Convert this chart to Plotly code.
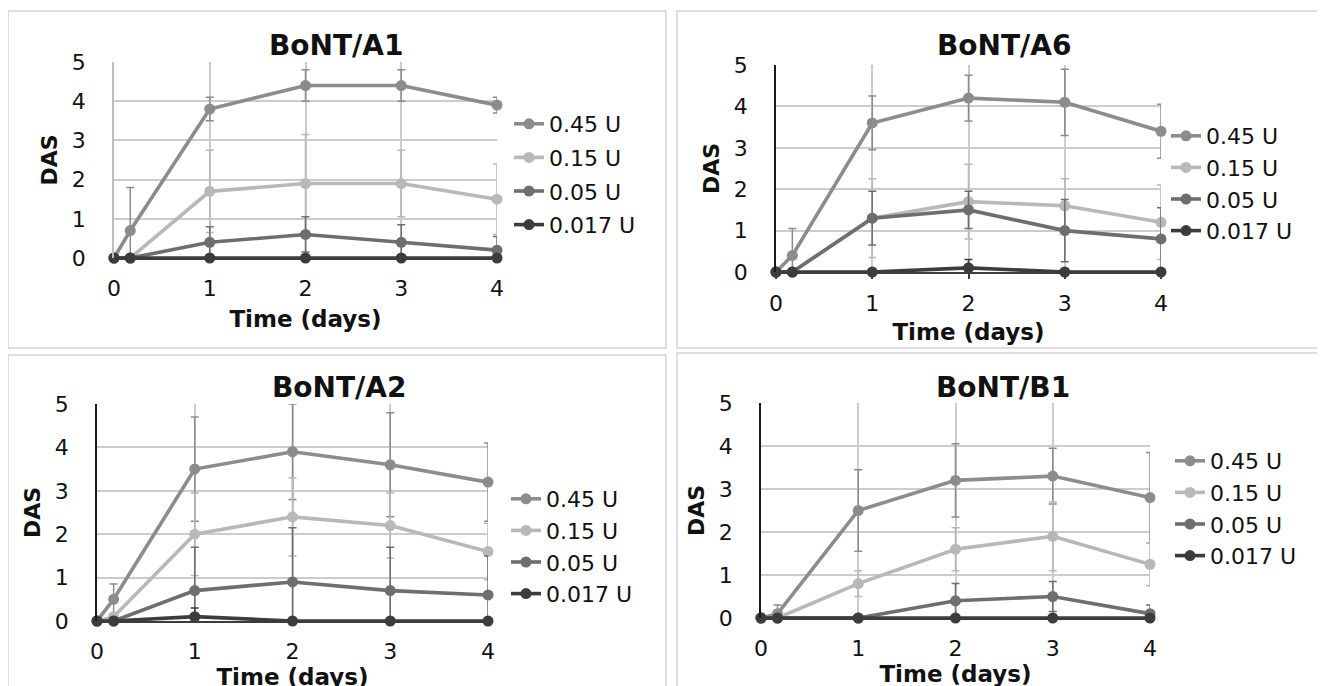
import plotly.graph_objects as go

W, H = 1325, 686
OFFSET = 8  # the page body margin shifts the figure by this many pixels

# ---------------- data ----------------
time_days = [0, 0.17, 1, 2, 3, 4]
doses = ["0.45 U", "0.15 U", "0.05 U", "0.017 U"]
panels = ["BoNT/A1", "BoNT/A6", "BoNT/A2", "BoNT/B1"]

# BoNT/A1
a1_045 = [0, 0.7, 3.8, 4.4, 4.4, 3.9]
a1_015 = [0, 0, 1.7, 1.9, 1.9, 1.5]
a1_005 = [0, 0, 0.4, 0.6, 0.4, 0.2]
a1_0017 = [0, 0, 0, 0, 0, 0]
a1_045_err = [0, 1.1, 0.3, 0.4, 0.4, 0.2]
a1_015_err = [0, 0, 1.05, 1.25, 0.85, 0.9]
a1_005_err = [0, 0, 0.4, 0.45, 0.45, 0.35]
a1_0017_err = [0, 0, 0, 0, 0, 0]

# BoNT/A6
a6_045 = [0, 0.4, 3.6, 4.2, 4.1, 3.4]
a6_015 = [0, 0, 1.3, 1.7, 1.6, 1.2]
a6_005 = [0, 0, 1.3, 1.5, 1.0, 0.8]
a6_0017 = [0, 0, 0, 0.1, 0, 0]
a6_045_err = [0, 0.65, 0.65, 0.55, 0.8, 0.65]
a6_015_err = [0, 0, 0.95, 0.9, 0.65, 0.9]
a6_005_err = [0, 0, 0.65, 0.45, 0.75, 0.75]
a6_0017_err = [0, 0, 0, 0.2, 0, 0]

# BoNT/A2
a2_045 = [0, 0.5, 3.5, 3.9, 3.6, 3.2]
a2_015 = [0, 0.1, 2.0, 2.4, 2.2, 1.6]
a2_005 = [0, 0, 0.7, 0.9, 0.7, 0.6]
a2_0017 = [0, 0, 0.1, 0, 0, 0]
a2_045_err = [0, 0.35, 1.2, 1.1, 1.2, 0.9]
a2_015_err = [0, 0, 0.95, 0.9, 0.75, 0.65]
a2_005_err = [0, 0, 1.0, 1.25, 1.0, 0.9]
a2_0017_err = [0, 0, 0.2, 0, 0, 0]

# BoNT/B1
b1_045 = [0, 0.1, 2.5, 3.2, 3.3, 2.8]
b1_015 = [0, 0, 0.8, 1.6, 1.9, 1.25]
b1_005 = [0, 0, 0, 0.4, 0.5, 0.1]
b1_0017 = [0, 0, 0, 0, 0, 0]
b1_045_err = [0, 0.2, 0.95, 0.85, 0.65, 1.05]
b1_015_err = [0, 0, 0.3, 0.5, 0.8, 0.5]
b1_005_err = [0, 0, 0, 0.4, 0.35, 0.2]
b1_0017_err = [0, 0, 0, 0, 0, 0]

x_ticks = [0, 1, 2, 3, 4]
y_ticks = [0, 1, 2, 3, 4, 5]

# ---------------- styling ----------------
colors = ["#8c8c8c", "#b8b8b8", "#6e6e6e", "#3c3c3c"]
FONT = "DejaVu Sans"

def px_x(p):
    return (p - OFFSET) / W

def px_y(p):
    return 1 - (p - OFFSET) / H

# plot-area boxes in screen pixels: (x_left, x_right, y_top, y_bottom)
boxes = [
    (114, 497, 62, 258),
    (776, 1161, 65, 272),
    (97, 488, 404, 621),
    (761, 1150, 403, 618),
]
title_pos = [(336, 45), (1004, 45), (339, 387), (1003, 387)]
legend_pos = [(509, 103, 2), (1166, 115, 0), (506, 478, 0), (1170, 440, 0)]
yline_colors = ["#bfbfbf", "#1a1a1a", "#1a1a1a", "#1a1a1a"]
x_tick_len = [0, 5, 0, 0]
x_label_standoff = [10, 6, 10, 10]
x_title_standoff = [11, 9, 4, 3]
panel_rects = [(8, 11, 666, 348), (677, 11, 1340, 348), (8, 355, 666, 700), (677, 353, 1340, 700)]

series = [
    [(a1_045, a1_045_err), (a1_015, a1_015_err), (a1_005, a1_005_err), (a1_0017, a1_0017_err)],
    [(a6_045, a6_045_err), (a6_015, a6_015_err), (a6_005, a6_005_err), (a6_0017, a6_0017_err)],
    [(a2_045, a2_045_err), (a2_015, a2_015_err), (a2_005, a2_005_err), (a2_0017, a2_0017_err)],
    [(b1_045, b1_045_err), (b1_015, b1_015_err), (b1_005, b1_005_err), (b1_0017, b1_0017_err)],
]

fig = go.Figure()
layout = dict(
    width=W, height=H,
    margin=dict(l=0, r=0, t=0, b=0, autoexpand=False),
    paper_bgcolor="white", plot_bgcolor="white",
    font=dict(family=FONT, color="#111111"),
    showlegend=True,
    annotations=[], shapes=[],
)

for i in range(4):
    sfx = "" if i == 0 else str(i + 1)
    xa, ya = "x" + sfx, "y" + sfx
    leg = "legend" + sfx
    for j, (vals, errs) in enumerate(series[i]):
        minus = [min(e, v) for v, e in zip(vals, errs)]
        fig.add_trace(go.Scatter(
            x=time_days, y=vals, name=doses[j],
            mode="lines+markers",
            line=dict(color=colors[j], width=3.6),
            marker=dict(color=colors[j], size=11),
            error_y=dict(type="data", array=errs, arrayminus=minus, symmetric=False,
                         color=colors[j], thickness=1.5, width=4),
            xaxis=xa, yaxis=ya, legend=leg, legendgroup=f"{i}-{j}",
            cliponaxis=False,
        ))
    xl, xr, yt, yb = boxes[i]
    layout["xaxis" + sfx] = dict(
        domain=[px_x(xl), px_x(xr)], range=[0, 4], anchor=ya,
        tickvals=x_ticks,
        ticks="outside" if x_tick_len[i] else "", ticklen=x_tick_len[i] or 5,
        tickcolor="#3c3c3c", tickwidth=1.5,
        ticklabelstandoff=x_label_standoff[i],
        tickfont=dict(size=22, family=FONT, color="#111111"),
        showgrid=True, gridcolor="#cccccc", gridwidth=1.5,
        showline=True, linecolor="#3c3c3c", linewidth=1.5, zeroline=False,
        title=dict(text="<b>Time (days)</b>", font=dict(size=23, family=FONT, color="#111111"),
                   standoff=x_title_standoff[i]),
    )
    layout["yaxis" + sfx] = dict(
        domain=[px_y(yb), px_y(yt)], range=[0, 5], anchor=xa,
        tickvals=y_ticks, ticks="", ticklabelstandoff=22,
        tickfont=dict(size=22, family=FONT, color="#111111"),
        showgrid=True, gridcolor="#cccccc", gridwidth=1.5,
        showline=True, linecolor=yline_colors[i], linewidth=1.5, zeroline=False,
        title=dict(text="<b>DAS</b>", font=dict(size=22, family=FONT, color="#111111"),
                   standoff=8),
    )
    lx, ly, gap = legend_pos[i]
    layout[leg] = dict(
        x=px_x(lx), y=px_y(ly), xanchor="left", yanchor="top",
        font=dict(size=22, family=FONT, color="#111111"),
        bgcolor="rgba(0,0,0,0)", borderwidth=0, tracegroupgap=gap,
    )
    tx, ty = title_pos[i]
    layout["annotations"].append(dict(
        text="<b>" + panels[i] + "</b>", x=px_x(tx), y=px_y(ty), xref="paper", yref="paper",
        xanchor="center", yanchor="middle", showarrow=False,
        font=dict(size=28, family=FONT, color="#111111"),
    ))
    x0, y0, x1, y1 = panel_rects[i]
    layout["shapes"].append(dict(
        type="rect", xref="paper", yref="paper",
        x0=px_x(x0), x1=px_x(x1), y0=px_y(y1), y1=px_y(y0),
        line=dict(color="#d4d4d4", width=1.5), fillcolor="rgba(0,0,0,0)", layer="below",
    ))

fig.update_layout(**layout)
fig.write_html("out.html")
